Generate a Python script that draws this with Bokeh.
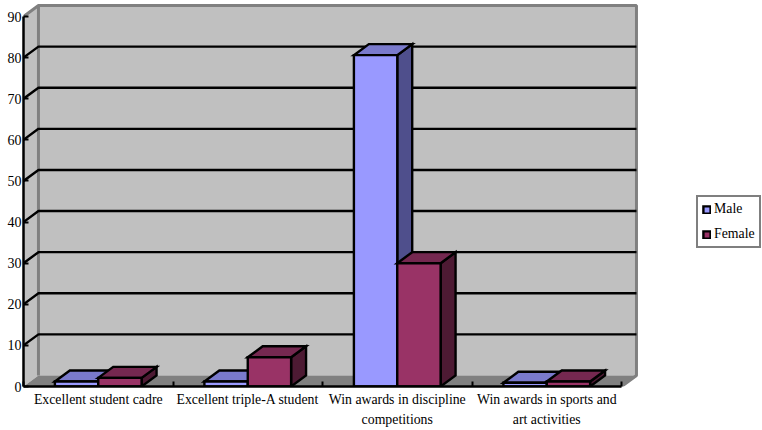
from bokeh.plotting import figure
from bokeh.models import FixedTicker, LinearAxis, Range1d, Legend, LegendItem
from bokeh.embed import file_html
from bokeh.resources import INLINE

categories_line1 = ["Excellent student cadre", "Excellent triple-A student",
                    "Win awards in discipline", "Win awards in sports and"]
categories_line2 = ["", "", "competitions", "art activities"]
male = [1.2, 1.2, 80.6, 0.9]
female = [2.1, 7.1, 30, 1.2]
y_ticks = [0, 10, 20, 30, 40, 50, 60, 70, 80, 90]

FONT = "Liberation Serif"
DX, DY = 0.1, 2.68      # oblique depth of the 3-D box, in category and value units
BAR_W = 0.29
N = len(categories_line1)
Y_TOP = 90

p = figure(width=762, height=430, output_backend="svg", toolbar_location=None,
           x_range=Range1d(0, 4.943), y_range=Range1d(0, 93.9),
           x_axis_type=None, y_axis_type=None,
           min_border_left=23, min_border_right=0, min_border_top=0, min_border_bottom=44,
           outline_line_color=None, background_fill_color="white", border_fill_color="white")
p.grid.visible = False

GREY, WALL = "#808080", "#C0C0C0"

# Side wall, back wall and floor of the box
p.patch([0, DX, DX, 0], [Y_TOP, Y_TOP + DY, DY, 0], fill_color=WALL, line_color=None)
p.quad(left=DX, right=N + DX, bottom=DY, top=Y_TOP + DY, fill_color=WALL, line_color=None)
p.patch([0, DX, N + DX, N], [0, DY, DY, 0], fill_color=GREY, line_color=None)

# Grey edges of the walls
p.line([0, DX, N + DX, N + DX, N], [Y_TOP, Y_TOP + DY, Y_TOP + DY, DY, 0],
       line_color=GREY, line_width=3)
p.line([DX, DX], [DY, Y_TOP + DY], line_color=GREY, line_width=3)

# Gridlines: a level run on the back wall and a diagonal across the side wall
for t in y_ticks[1:-1]:
    p.line([0, DX, N + DX], [t, t + DY, t + DY], line_color="black", line_width=2.4)


def bar(x0, v, front, top, side):
    x1 = x0 + BAR_W
    p.patch([x1, x1 + DX, x1 + DX, x1], [0, DY, v + DY, v],
            fill_color=side, line_color="black", line_width=2.4, line_join="miter")
    p.patch([x0, x0 + DX, x1 + DX, x1], [v, v + DY, v + DY, v],
            fill_color=top, line_color="black", line_width=2.4, line_join="miter")
    return p.quad(left=x0, right=x1, bottom=0, top=v,
                  fill_color=front, line_color="black", line_width=2.4, line_join="miter")


male_r = female_r = None
for i in range(N):
    male_r = bar(i + 0.5 - BAR_W, male[i], "#9999FF", "#7A7ACC", "#4F4F8C")
    female_r = bar(i + 0.5, female[i], "#993366", "#752850", "#4D1A33")

# Axes along the front edge of the box
y_axis = LinearAxis(ticker=FixedTicker(ticks=y_ticks), bounds=(0, Y_TOP))
y_axis.axis_line_color = "black"
y_axis.axis_line_width = 2.5
y_axis.major_tick_in = 5
y_axis.major_tick_out = 0
y_axis.major_tick_line_width = 2
y_axis.minor_tick_line_color = None
y_axis.major_label_standoff = 2
y_axis.major_label_text_font = FONT
y_axis.major_label_text_font_size = "14px"
y_axis.major_label_text_color = "black"
p.add_layout(y_axis, "left")

centers = [i + 0.5 for i in range(N)]
edges = [i for i in range(N + 1)]


def category_axis(labels, standoff):
    ax = LinearAxis(ticker=FixedTicker(ticks=centers, minor_ticks=edges), bounds=(0, N))
    ax.major_label_overrides = {c: t for c, t in zip(centers, labels)}
    ax.major_tick_in = ax.major_tick_out = 0
    ax.major_label_standoff = standoff
    ax.major_label_text_font = FONT
    ax.major_label_text_font_size = "13.8px"
    ax.major_label_text_color = "black"
    ax.major_label_orientation = "horizontal"
    return ax


x_axis = category_axis(categories_line1, 5)
x_axis.axis_line_color = "black"
x_axis.axis_line_width = 2.5
x_axis.minor_tick_in = 5
x_axis.minor_tick_out = 0
x_axis.minor_tick_line_color = "black"
x_axis.minor_tick_line_width = 2
p.add_layout(x_axis, "below")

x_axis2 = category_axis(categories_line2, -2)
x_axis2.axis_line_color = None
x_axis2.minor_tick_line_color = None
p.add_layout(x_axis2, "below")

legend = Legend(items=[LegendItem(label="Male", renderers=[male_r]),
                       LegendItem(label="Female", renderers=[female_r])],
                location=(673, 138), orientation="vertical",
                border_line_color="black", border_line_width=2.5,
                background_fill_color="white", background_fill_alpha=1,
                label_text_font=FONT, label_text_font_size="13.8px", label_text_color="black",
                glyph_width=9, glyph_height=9, label_standoff=3,
                padding=4, margin=0, spacing=9, label_height=14)
p.add_layout(legend, "center")

open("out.html", "w").write(file_html(p, INLINE))
